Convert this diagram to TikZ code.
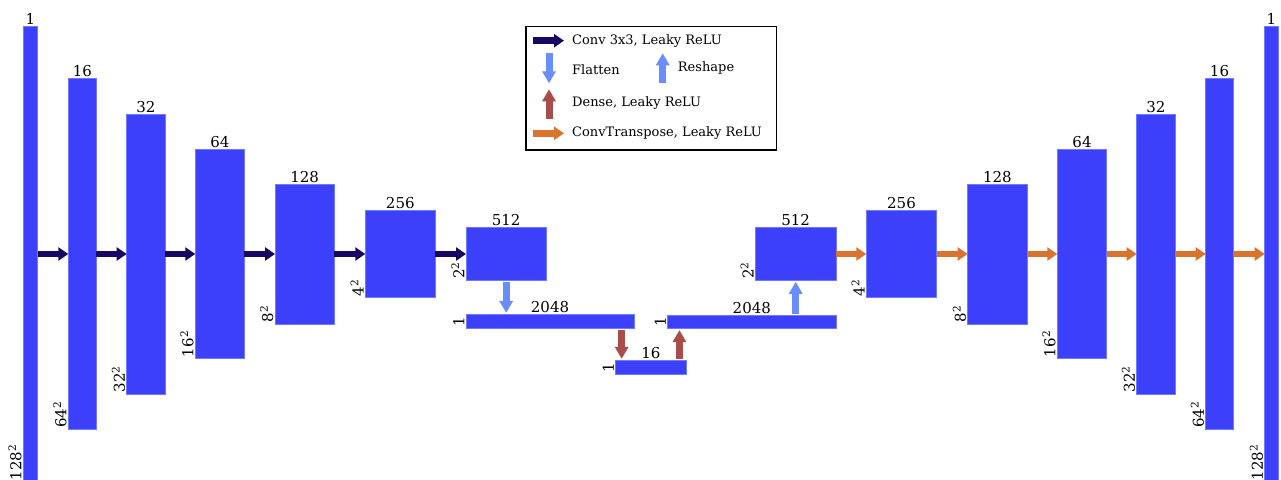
\documentclass[tikz,border=0pt]{standalone}
\usepackage{fontspec}
\setmainfont{DejaVu Serif}
\usetikzlibrary{arrows.meta}
\definecolor{layerblue}{RGB}{60,64,250}
\definecolor{layeredge}{RGB}{112,122,255}
\definecolor{convnavy}{RGB}{24,6,100}
\definecolor{shapeblue}{RGB}{105,140,255}
\definecolor{densered}{RGB}{168,76,76}
\definecolor{upsorange}{RGB}{217,115,45}
\begin{document}
\begin{tikzpicture}[x=1pt, y=-1pt,
        layer/.style={draw=layeredge, line width=0.8pt, fill=layerblue, inner sep=0pt, outer sep=0pt},
        toplabel/.style={anchor=south, inner sep=1.5pt, font=\fontsize{15}{18}\selectfont},
        sidelabel/.style={rotate=90, anchor=south west, inner sep=1.5pt, font=\fontsize{15}{18}\selectfont},
        keytext/.style={anchor=west, inner sep=2pt, font=\fontsize{13}{16}\selectfont},
        hflow/.style={line width=6.5pt, -{Triangle[length=10pt, width=13pt]}},
        vflow/.style={line width=7pt, -{Triangle[length=12pt, width=13pt]}, shorten <=1.5pt, shorten >=1.5pt},
        conv/.style={hflow, draw=convnavy},
        upconv/.style={hflow, draw=upsorange},
        flatten/.style={vflow, draw=shapeblue},
        dense/.style={vflow, draw=densered}]
        \useasboundingbox (0,0) rectangle (1281,479);
        % layers: name / centre x / centre y / width / height / channels / size
        \foreach \name/\cx/\cy/\w/\h/\chan/\size in {
            e1/30.5/254/14.4/456/1/{128\textsuperscript{2}},
            e2/82.3/254/28/350.6/16/{64\textsuperscript{2}},
            e3/146/254/38.6/280/32/{32\textsuperscript{2}},
            e4/219.8/254/49/209.4/64/{16\textsuperscript{2}},
            e5/304.7/254/59.3/140/128/{8\textsuperscript{2}},
            e6/400.3/254/70/87.4/256/{4\textsuperscript{2}},
            e7/506.2/254/80.3/52.6/512/{2\textsuperscript{2}},
            e8/550/321.4/168/14/2048/1,
            z/650.8/367.2/70.3/13.7/16/1,
            d8/751.8/321.8/168.3/13.6/2048/1,
            d7/795.7/254/80.7/52.6/512/{2\textsuperscript{2}},
            d6/901.5/254/70.4/87.4/256/{4\textsuperscript{2}},
            d5/997.3/254/59.3/140/128/{8\textsuperscript{2}},
            d4/1082/254/49.4/209.4/64/{16\textsuperscript{2}},
            d3/1155.8/254/38.3/280/32/{32\textsuperscript{2}},
            d2/1219.5/254/27.6/350.6/16/{64\textsuperscript{2}},
            d1/1271.5/254/13.6/456/1/{128\textsuperscript{2}}} {
            \node[layer, minimum width=\w pt, minimum height=\h pt] (\name) at (\cx,\cy) {};
            \node[toplabel] (\name-chan) at (\name.north) {\chan};
            \node[sidelabel] (\name-size) at (\name.south west) {\size};
        }
        % encoder and decoder
        \foreach \a/\b in {e1/e2,e2/e3,e3/e4,e4/e5,e5/e6,e6/e7}
            \draw[conv] (\a.east) -- (\b.west);
        \foreach \a/\b in {d7/d6,d6/d5,d5/d4,d4/d3,d3/d2,d2/d1}
            \draw[upconv] (\a.east) -- (\b.west);
        % bottleneck
        \draw[flatten] (e7.south) -- (e7.south |- e8.north);
        \coordinate (dense-in) at ([xshift=6pt]z.north west);
        \coordinate (dense-out) at ([xshift=-6.5pt]z.north east);
        \draw[dense] (dense-in |- e8.south) -- (dense-in);
        \draw[dense] (dense-out) -- (dense-out |- d8.south);
        \draw[flatten] (d7.south |- d8.north) -- (d7.south);
        % legend
        \node[draw, line width=1.3pt, inner sep=0pt, minimum width=250.7pt, minimum height=123.3pt] (legend) at (651.3,88.3) {};
        \node[keytext] (key-conv) at (570,40.7) {Conv 3x3, Leaky ReLU};
        \node[keytext] (key-flatten) at (570,69.3) {Flatten};
        \node[keytext] (key-reshape) at (675.7,68.3) {Reshape};
        \node[keytext] (key-dense) at (570,102.7) {Dense, Leaky ReLU};
        \node[keytext] (key-upconv) at (570,133.3) {ConvTranspose, Leaky ReLU};
        \coordinate (conv-tail) at (533,40.7);
        \coordinate (upconv-tail) at (533,133.3);
        \coordinate (flatten-tail) at (549,53.3);
        \coordinate (flatten-head) at (549,83.3);
        \coordinate (reshape-tail) at (662.7,83);
        \coordinate (reshape-head) at (662.7,53.3);
        \coordinate (dense-tail) at (549,119.3);
        \coordinate (dense-head) at (549,89.3);
        \draw[conv, shorten >=6pt] (conv-tail) -- (key-conv.west);
        \draw[upconv, shorten >=6pt] (upconv-tail) -- (key-upconv.west);
        \draw[flatten, shorten <=0pt, shorten >=0pt] (flatten-tail) -- (flatten-head);
        \draw[flatten, shorten <=0pt, shorten >=0pt] (reshape-tail) -- (reshape-head);
        \draw[dense, shorten <=0pt, shorten >=0pt] (dense-tail) -- (dense-head);
\end{tikzpicture}
\end{document}
